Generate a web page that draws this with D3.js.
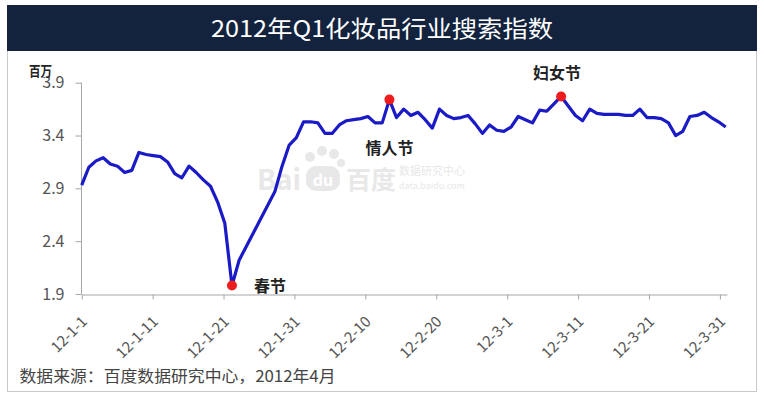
<!DOCTYPE html>
<html><head><meta charset="utf-8">
<script src="https://cdn.jsdelivr.net/npm/d3@7"></script>
<style>
html,body{margin:0;padding:0;background:#fff;}
svg{display:block;}
text{font-family:"Noto Sans CJK SC","Liberation Sans",sans-serif;}
</style></head>
<body><svg id="c" width="764" height="400"></svg>
<script>
const titleText = "2012年Q1化妆品行业搜索指数";
const unitText = "百万";
const sourceText = "数据来源：百度数据研究中心，2012年4月";
const startDate = new Date(2012, 0, 1);
const endDate = new Date(2012, 3, 1);
const values = [
 2.93,3.10,3.16,3.19,3.13,3.11,3.05,3.07,3.24,3.22,
 3.21,3.20,3.15,3.04,3.00,3.11,3.05,2.98,2.92,2.77,
 2.57,1.98,2.22,2.35,2.48,2.61,2.74,2.87,3.11,3.31,
 3.38,3.53,3.53,3.52,3.42,3.42,3.50,3.54,3.55,3.56,
 3.58,3.52,3.52,3.74,3.57,3.65,3.59,3.62,3.55,3.47,
 3.65,3.59,3.56,3.57,3.59,3.51,3.42,3.50,3.45,3.44,
 3.48,3.58,3.55,3.52,3.64,3.63,3.70,3.77,3.68,3.59,
 3.54,3.65,3.61,3.60,3.60,3.60,3.59,3.59,3.65,3.57,
 3.57,3.56,3.52,3.40,3.44,3.58,3.59,3.62,3.57,3.53,
 3.48];
const yTicks = [1.9, 2.4, 2.9, 3.4, 3.9];
const xTickLabels = ["12-1-1","12-1-11","12-1-21","12-1-31","12-2-10","12-2-20","12-3-1","12-3-11","12-3-21","12-3-31"];
const xTickStepDays = 10;
const events = [{name:"春节", idx:21},{name:"情人节", idx:43},{name:"妇女节", idx:67}];

const tickDates = xTickLabels.map((_, i) => d3.timeDay.offset(startDate, i * xTickStepDays));

const svg = d3.select("#c");
// frame
svg.append("rect").attr("x",7.5).attr("y",5.5).attr("width",749).attr("height",386)
  .attr("fill","#fff").attr("stroke","#c9c9c9");
svg.append("rect").attr("x",7).attr("y",5).attr("width",750).attr("height",46).attr("fill","#13233e");
svg.append("text").attr("x",382).attr("y",37).attr("text-anchor","middle")
  .attr("fill","#fff").attr("font-size",23).attr("textLength",342).attr("lengthAdjust","spacingAndGlyphs")
  .text(titleText);

const y = d3.scaleLinear().domain([1.9,3.9]).range([294,82.7]);
const xAxisScale = d3.scaleTime().domain([startDate, endDate]).range([81.7, 727]);
const xPts = d3.scalePoint().domain(d3.range(values.length)).range([81.7, 725.7]);

// watermark
const wm = svg.append("g").attr("fill","#e8e8e8");
wm.append("text").attr("x",257).attr("y",190).attr("font-size",28).attr("font-weight","bold").attr("font-family","Liberation Sans, sans-serif").text("Bai");
[[310,157,5],[322,151,5],[334,154,5],[341,163,4]].forEach(c=>wm.append("circle").attr("cx",c[0]).attr("cy",c[1]).attr("r",c[2]));
wm.append("rect").attr("x",306).attr("y",166).attr("width",34).attr("height",25).attr("rx",10);
wm.append("text").attr("x",323).attr("y",186).attr("text-anchor","middle").attr("font-size",16).attr("font-weight","bold").attr("fill","#fff").attr("font-family","Liberation Sans, sans-serif").text("du");
wm.append("text").attr("x",346).attr("y",189).attr("font-size",25).attr("font-weight","bold").text("百度");
wm.append("text").attr("x",399).attr("y",175).attr("font-size",11).text("数据研究中心");
wm.append("text").attr("x",399).attr("y",189).attr("font-size",9).attr("font-family","Liberation Sans, sans-serif").text("data.baidu.com");

// y axis
const yAx = svg.append("g").attr("transform","translate(81.5,0)")
  .call(d3.axisLeft(y).tickValues(yTicks).tickFormat(d3.format(".1f")).tickSize(6).tickPadding(11));
yAx.select(".domain").attr("stroke","#a6a6a6").attr("d","M0,"+y(3.9)+"V"+y(1.9));
yAx.selectAll(".tick line").attr("stroke","#a6a6a6");
yAx.selectAll(".tick text").attr("font-size",16).attr("fill","#555").attr("font-family","Liberation Sans, sans-serif");

// x axis
const xAx = svg.append("g").attr("transform","translate(0,294.5)")
  .call(d3.axisBottom(xAxisScale).tickValues(tickDates).tickFormat((d,i)=>xTickLabels[i]).tickSize(5).tickSizeOuter(0));
xAx.select(".domain").attr("stroke","#a6a6a6");
xAx.selectAll(".tick line").attr("stroke","#a6a6a6");
xAx.selectAll(".tick text").attr("font-size",15).attr("fill","#555").attr("font-family","Liberation Sans, sans-serif")
  .attr("text-anchor","end").attr("dy",null).attr("y",null)
  .attr("transform","translate(6,28) rotate(-45)");

// unit label over 3.9
svg.append("rect").attr("x",27).attr("y",62).attr("width",28).attr("height",15).attr("fill","#fff");
svg.append("text").attr("x",29).attr("y",76).attr("font-size",14).attr("font-weight","bold").attr("fill","#222")
  .attr("textLength",23).attr("lengthAdjust","spacingAndGlyphs").text(unitText);

// line
const line = d3.line().x((d,i)=>xPts(i)).y(d=>y(d));
svg.append("path").datum(values).attr("d",line).attr("fill","none")
  .attr("stroke","#1a1ac6").attr("stroke-width",3.2).attr("stroke-linejoin","round");

// events
const evOff = {"春节":[22,6,"start"],"情人节":[0,54,"middle"],"妇女节":[-4,-17,"middle"]};
events.forEach(e=>{
  const cx = xPts(e.idx), cy = y(values[e.idx]);
  svg.append("circle").attr("cx",cx).attr("cy",cy).attr("r",5).attr("fill","#ee1c1c");
  const o = evOff[e.name];
  svg.append("text").attr("x",cx+o[0]).attr("y",cy+o[1]).attr("text-anchor",o[2])
    .attr("font-size",16).attr("font-weight","bold").attr("fill","#222").text(e.name);
});

// source
svg.append("text").attr("x",19.5).attr("y",382).attr("font-size",16).attr("fill","#444")
  .attr("textLength",316).attr("lengthAdjust","spacingAndGlyphs").text(sourceText);
</script></body></html>
